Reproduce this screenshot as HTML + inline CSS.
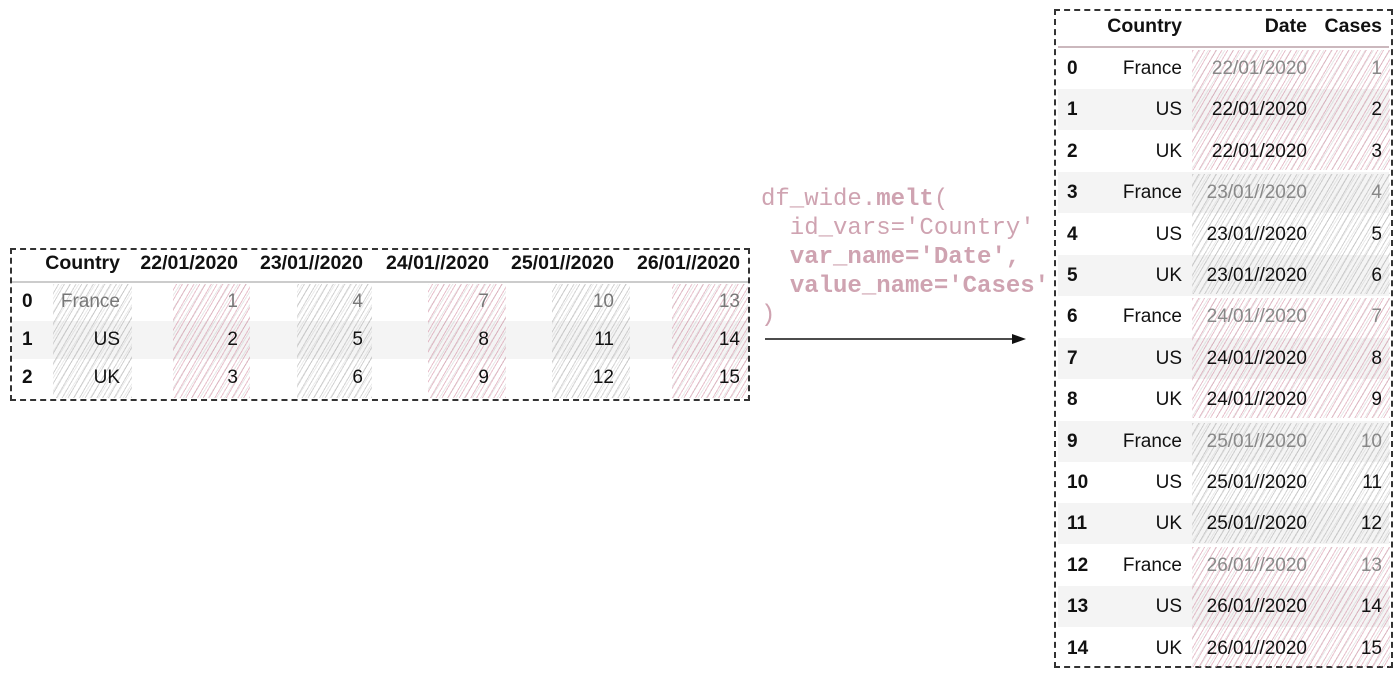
<!DOCTYPE html>
<html><head><meta charset="utf-8">
<style>
body{margin:0;width:1400px;height:681px;background:#fff;position:relative;overflow:hidden;font-family:"Liberation Sans",sans-serif;color:#111}
.abs{position:absolute}
.box{position:absolute;border:2px dashed #333;box-sizing:border-box}
.t{position:absolute;font-size:19px;line-height:22px;white-space:nowrap}
.h{font-weight:bold}
.hh{font-size:19.5px}
.r{text-align:right}
.hp{background:repeating-linear-gradient(-60deg,rgba(205,120,145,.45) 0 1px,transparent 1px 5px),repeating-linear-gradient(-58deg,rgba(190,190,190,.35) 0 1px,transparent 1px 7px)}
.hg{background:repeating-linear-gradient(-60deg,rgba(160,160,160,.45) 0 1px,transparent 1px 5px),repeating-linear-gradient(-58deg,rgba(200,200,200,.35) 0 1px,transparent 1px 7px)}
.code{position:absolute;font-family:"Liberation Mono",monospace;font-size:24px;color:#cfa3b1;white-space:pre;line-height:29px}
</style></head><body>
<div class="box" style="left:10px;top:248px;width:740px;height:153px"></div>
<div class="box" style="left:1054px;top:9px;width:339px;height:659px"></div>
<div class="code" style="left:761px;top:185px">df_wide.<b>melt</b>(
  id_vars='Country'
  <b>var_name='Date',</b>
  <b>value_name='Cases'</b>
)</div>
<svg class="abs" style="left:760px;top:330px" width="275" height="20">
<line x1="5" y1="9" x2="258" y2="9" stroke="#111" stroke-width="1.5"/>
<polygon points="266,9 252,4 252,14" fill="#111"/>
</svg>
<div id="root"></div>
<script>
const countries=["France","US","UK"];
const dates=["22/01/2020","23/01//2020","24/01//2020","25/01//2020","26/01//2020"];
const cases=[[1,4,7,10,13],[2,5,8,11,14],[3,6,9,12,15]];
const hatchKind=["hp","hg","hp","hg","hp"];
const root=document.getElementById('root');
function mk(cls,txt,l,t,w,extra){const d=document.createElement('div');d.className=cls;if(txt!==null)d.textContent=txt;d.style.left=l+'px';d.style.top=t+'px';if(w)d.style.width=w+'px';if(extra)Object.assign(d.style,extra);root.appendChild(d);return d;}
const wRowY=r=>283+r*38;
const colRight=[120,238,363,489,614,740];
const hatchL=[[53,132],[173,250],[297,372],[428,506],[552,630],[672,748]];
let s=mk('abs',null,12,321,736,{height:'38px',background:'#f4f4f4'});


let sep=mk('abs',null,12,281,736,{height:'2px',background:'#ccc'});


hatchL.forEach((h,i)=>{const e=mk('abs '+(i==0?'hg':hatchKind[i-1]),null,h[0],284,h[1]-h[0],{height:'114px'});

});
["Country",...dates].forEach((c,i)=>{const e=mk('t h hh r',c,colRight[i]-140,252,140);

});
countries.forEach((c,r)=>{const y=wRowY(r)+8;const col=r==0?'#777':'#111';
let e=mk('t h',''+r,22,y,20);


e=mk('t r',c,colRight[0]-100,y,100,{color:col});


cases[r].forEach((v,j)=>{const e2=mk('t r',''+v,colRight[j+1]-60,y,60,{color:col});

});});
const lRowY=i=>48+i*41.4;
sep=mk('abs',null,1058,46,331,{height:'2px',background:'#cbb8bd'});


for(let i=0;i<15;i++){if(i%2==1){const e=mk('abs',null,1058,lRowY(i),331,{height:'41px',background:'#f4f4f4'});

}}
dates.forEach((d,g)=>{const e=mk('abs '+hatchKind[g],null,1192,lRowY(g*3)+2,198,{height:'120px'});

});
[["Country",1182],["Date",1307],["Cases",1382]].forEach(([t,x],i)=>{const e=mk('t h hh r',t,x-100,15,100);

});
dates.forEach((d,g)=>countries.forEach((c,r)=>{const i=g*3+r;const y=lRowY(i)+10;const col=r==0?'#888':'#111';
let e=mk('t h',''+i,1067,y,40);


e=mk('t r',c,1082,y,100);


e=mk('t r',d,1177,y,130,{color:col});


e=mk('t r',''+cases[r][g],1322,y,60,{color:col});

}));
</script>
</body></html>
